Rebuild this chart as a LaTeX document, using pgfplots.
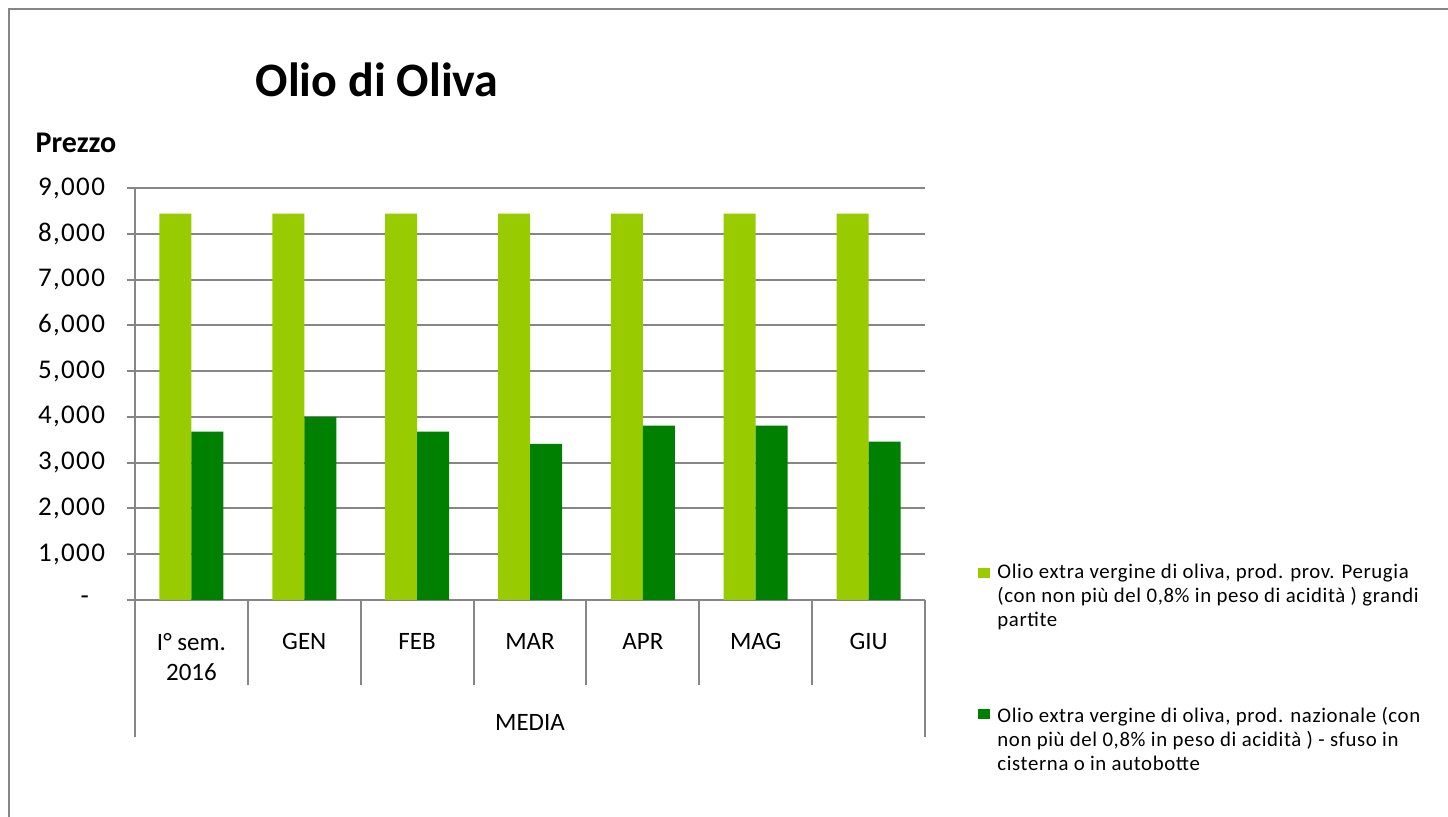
\documentclass[border=0pt]{standalone}
\usepackage{fontspec}
\setmainfont{Carlito}
\usepackage{pgfplots}
\pgfplotsset{compat=1.18}
\definecolor{lg}{HTML}{99CC00}
\definecolor{dg}{HTML}{008000}
\definecolor{gr}{HTML}{868686}
\begin{document}
\begin{tikzpicture}[x=0.5pt,y=0.5pt]
\useasboundingbox (0,0) rectangle (1448,817);
\draw[gr, line width=1pt] (9,-5) -- (9,808) -- (1455,808);
\node[font=\fontsize{24}{28}\selectfont\bfseries] at (377,737) {Olio di Oliva};
\node[font=\fontsize{15}{17}\selectfont\bfseries] at (76,674) {Prezzo};
\begin{axis}[
 at={(67.5pt,108.5pt)}, anchor=south west,
 scale only axis, width=395pt, height=206pt,
 clip=false,
 xmin=-0.5, xmax=6.5, ymin=0, ymax=9000,
 ybar=0pt, bar width=16pt,
 axis x line*=bottom, axis y line*=left,
 axis line style={gr, line width=1pt},
 ytick={0,1000,...,9000},
 yticklabels={{-\hspace{8pt}\rule{0pt}{0pt}},{1,000},{2,000},{3,000},{4,000},{5,000},{6,000},{7,000},{8,000},{9,000}},
 ymajorgrids, major grid style={gr, line width=1pt},
 y tick style={gr, line width=1pt}, tick align=outside, major tick length=4pt,
 yticklabel style={font=\fontsize{13.5}{15}\selectfont\addfontfeature{LetterSpace=5}, xshift=-7.5pt},
 xtick={0,...,6}, xticklabels={{I° sem.\\2016},GEN,FEB,MAR,APR,MAG,GIU},
 x tick style={draw=none},
 xticklabel style={font=\fontsize{12.5}{15}\selectfont, align=center, yshift=-9pt},
]
\addplot[fill=lg, draw=none] coordinates {(0,8440) (1,8440) (2,8440) (3,8440) (4,8440) (5,8440) (6,8440)};
\addplot[fill=dg, draw=none] coordinates {(0,3680) (1,4000) (2,3680) (3,3410) (4,3810) (5,3810) (6,3460)};
\draw[gr, line width=1pt] (axis cs:-0.5,0) -- ++(0pt,-68.5pt);
\draw[gr, line width=1pt] (axis cs:6.5,0) -- ++(0pt,-68.5pt);
\draw[gr, line width=1pt] (axis cs:0.5,0) -- ++(0pt,-42.5pt);
\draw[gr, line width=1pt] (axis cs:1.5,0) -- ++(0pt,-42.5pt);
\draw[gr, line width=1pt] (axis cs:2.5,0) -- ++(0pt,-42.5pt);
\draw[gr, line width=1pt] (axis cs:3.5,0) -- ++(0pt,-42.5pt);
\draw[gr, line width=1pt] (axis cs:4.5,0) -- ++(0pt,-42.5pt);
\draw[gr, line width=1pt] (axis cs:5.5,0) -- ++(0pt,-42.5pt);
\node[font=\fontsize{12.5}{15}\selectfont] at ([yshift=-61pt]axis cs:3,0) {MEDIA};
\end{axis}
% legend
\fill[lg] (978,239) rectangle (990,249);
\fill[dg] (978,98) rectangle (990,108);
\begin{scope}[every node/.style={anchor=base west, inner sep=0pt, font=\fontsize{10.4}{12}\selectfont\addfontfeature{LetterSpace=3}}]
\node at (997,238) {Olio extra vergine di oliva, prod. prov. Perugia};
\node at (997,214) {(con non più del 0,8\% in peso di acidità ) grandi};
\node at (997,190) {partite};
\node at (997,94) {Olio extra vergine di oliva, prod. nazionale (con};
\node at (997,70) {non più del 0,8\% in peso di acidità ) - sfuso in};
\node at (997,46) {cisterna o in autobotte};
\end{scope}
\end{tikzpicture}
\end{document}
